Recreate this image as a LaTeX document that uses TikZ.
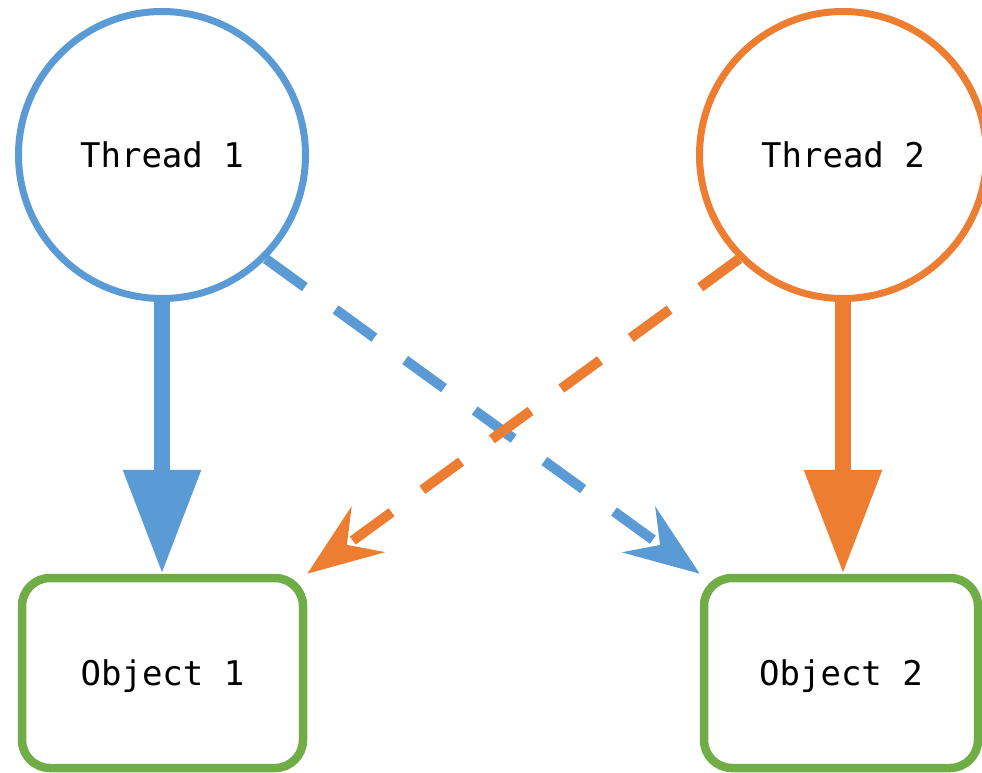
\documentclass[tikz,border=0pt]{standalone}
\usepackage{fontspec}
\setmonofont{DejaVu Sans Mono}
\usetikzlibrary{arrows.meta}

\definecolor{thrblue}{HTML}{5B9BD5}
\definecolor{throrange}{HTML}{ED7D31}
\definecolor{objgreen}{HTML}{70AD47}

\tikzset{
  thread/.style={circle, draw=#1, line width=7pt, fill=white,
    minimum size=287pt, inner sep=0pt,
    font=\ttfamily\fontsize{34}{40}\selectfont},
  objbox/.style={rectangle, rounded corners=28pt, draw=objgreen,
    line width=8.5pt, fill=white, minimum height=190pt, inner sep=0pt,
    text depth=0pt, font=\ttfamily\fontsize{34}{40}\selectfont},
  owns/.style={draw=#1, line width=16pt,
    -{Triangle[length=104pt, width=74pt, fill=#1]}},
  wants/.style={draw=#1, line width=10pt, dash pattern=on 48pt off 38pt,
    -{Stealth[length=75pt, width=56pt, inset=26pt, fill=#1]}}
}

\begin{document}
\begin{tikzpicture}[x=1pt, y=-1pt]
  \useasboundingbox (0,0) rectangle (982,773);

  % threads
  \node[thread=thrblue] (t1) at (162,155) {Thread 1};
  \node[thread=throrange] (t2) at (843,155) {Thread 2};

  % objects
  \node[objbox, minimum width=281pt] (o1) at (162.5,673) {Object 1};
  \node[objbox, minimum width=274pt] (o2) at (841,673) {Object 2};

  % held locks
  \draw[owns=thrblue] (t1.south) -- (t1.south |- o1.north);
  \draw[owns=throrange] (t2.south) -- (t2.south |- o2.north);

  % requested locks
  \draw[wants=thrblue] (t1.-45) -- (o2.north west);
  \draw[wants=throrange] (t2.-135) -- (o1.north east);
\end{tikzpicture}
\end{document}
